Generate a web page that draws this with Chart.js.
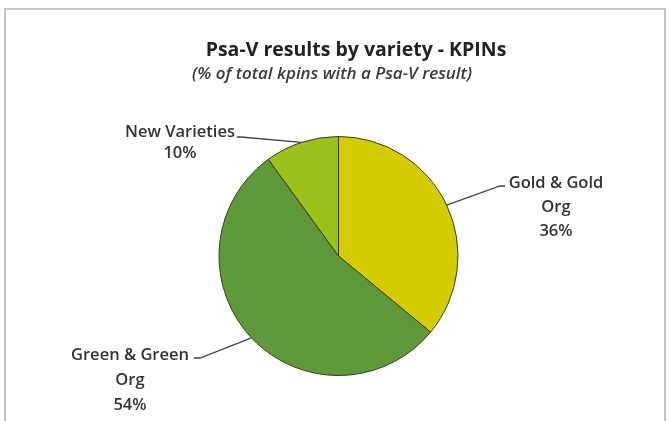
<!DOCTYPE html>
<html lang="en">
<head>
    <meta charset="UTF-8">
    <title>Psa-V results by variety - KPINs</title>
    <script src="https://cdn.jsdelivr.net/npm/chart.js"></script>
    <style>
        html, body { margin: 0; padding: 0; background: #fff; }
        #wrap { position: relative; width: 669px; height: 421px; overflow: hidden; }
        #frame { position: absolute; left: 4px; top: 8px; width: 658px; height: 430px; border: 2px solid #c4c4c4; }
        #chart { position: absolute; left: 0; top: 0; }
    </style>
</head>
<body>
<div id="wrap">
    <div id="frame"></div>
    <canvas id="chart" width="669" height="421"></canvas>
</div>
<script>
    // Dati
    const chartTitle = 'Psa-V results by variety - KPINs';
    const chartSubtitle = '(% of total kpins with a Psa-V result)';
    const varieties = ['Gold & Gold Org', 'Green & Green Org', 'New Varieties'];
    const labelLines = [['Gold & Gold', 'Org'], ['Green & Green', 'Org'], ['New Varieties']];
    const percents = [36, 54, 10];
    const sliceColors = ['#d4cc00', '#5e9a3a', '#9dc11c'];

    // posizione delle etichette (centro testo) e gomito della linea guida
    const labelPlacement = [
        { x: 556, y: 183, step: 24, elbow: [500, 186], end: [505, 186] },
        { x: 130, y: 355, step: 25, elbow: [200, 358], end: [194, 358] },
        { x: 180, y: 132, step: 21, elbow: [241, 137], end: [237, 137] }
    ];

    // titolo e sottotitolo disegnati a mano (non centrati sullo stesso asse)
    const headerPlugin = {
        id: 'header',
        afterDraw(chart) {
            const ctx = chart.ctx;
            ctx.save();
            ctx.textAlign = 'center';
            ctx.textBaseline = 'middle';
            ctx.fillStyle = '#222';
            ctx.font = 'bold 19.5px "Open Sans"';
            ctx.fillText(chartTitle, 356, 50);
            ctx.fillStyle = '#3a3a3a';
            ctx.font = 'italic 600 17px "Open Sans"';
            ctx.fillText(chartSubtitle, 332, 74);
            ctx.restore();
        }
    };

    const calloutPlugin = {
        id: 'callouts',
        afterDraw(chart) {
            const ctx = chart.ctx;
            const meta = chart.getDatasetMeta(0);
            meta.data.forEach((arc, i) => {
                const p = labelPlacement[i];
                const mid = (arc.startAngle + arc.endAngle) / 2;
                const sx = arc.x + Math.cos(mid) * arc.outerRadius;
                const sy = arc.y + Math.sin(mid) * arc.outerRadius;
                ctx.save();
                ctx.strokeStyle = '#444';
                ctx.lineWidth = 1.3;
                ctx.beginPath();
                ctx.moveTo(sx, sy);
                ctx.lineTo(p.elbow[0], p.elbow[1]);
                ctx.lineTo(p.end[0], p.end[1]);
                ctx.stroke();

                ctx.fillStyle = '#333';
                ctx.font = '600 16.5px "Open Sans"';
                ctx.textAlign = 'center';
                ctx.textBaseline = 'middle';
                const lines = labelLines[i].concat([percents[i] + '%']);
                lines.forEach((t, k) => ctx.fillText(t, p.x, p.y + k * p.step));
                ctx.restore();
            });
        }
    };

    new Chart(document.getElementById('chart'), {
        type: 'pie',
        data: {
            labels: varieties,
            datasets: [{
                data: percents,
                backgroundColor: sliceColors,
                borderColor: '#3b3b22',
                borderWidth: 1,
                hoverOffset: 0
            }]
        },
        options: {
            responsive: false,
            animation: false,
            layout: { padding: { top: 136, bottom: 45, left: 8, right: 0 } },
            plugins: {
                legend: { display: false },
                tooltip: { enabled: false },
                title: { display: false },
                subtitle: { display: false }
            }
        },
        plugins: [headerPlugin, calloutPlugin]
    });
</script>
</body>
</html>
